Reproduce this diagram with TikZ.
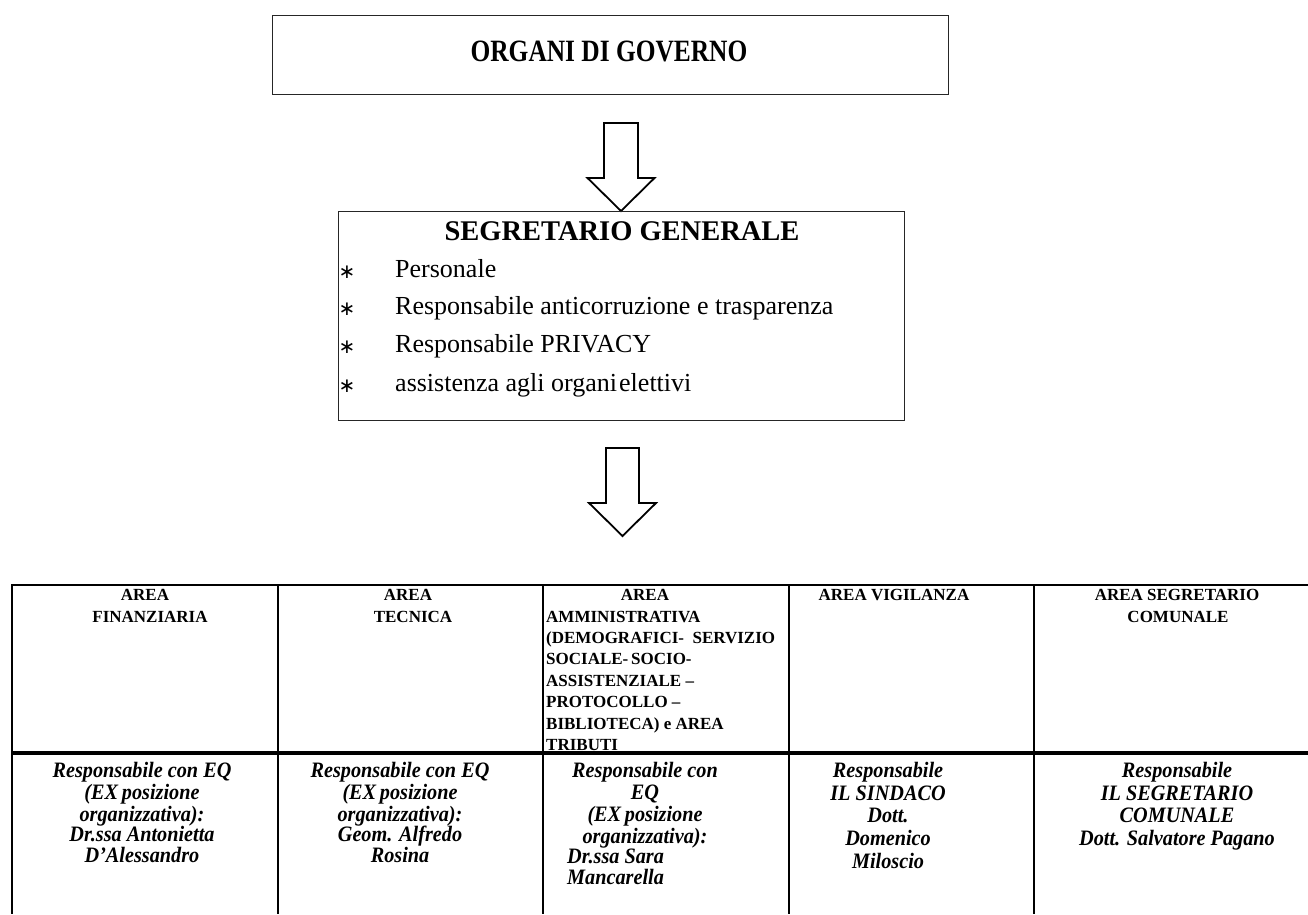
\documentclass[tikz,border=0pt]{standalone}
\usepackage{fontspec}
\setmainfont{Liberation Serif}
\newfontfamily\condA[FakeStretch=0.82]{Liberation Serif}
\newfontfamily\condB[FakeStretch=0.92]{Liberation Serif}
\newfontfamily\dejavu{DejaVu Sans}
\usetikzlibrary{calc}
\tikzset{
  frame/.style={draw=black!85, line width=1.2pt, inner sep=0pt},
  blk/.style={draw=black, line width=1.8pt, fill=white, line join=miter},
  tline/.style={draw=black, line width=2pt},
  tthick/.style={draw=black, line width=3.5pt},
  ttl/.style={font=\condA\bfseries\fontsize{31}{33}\selectfont, anchor=base, inner sep=0pt},
  sttl/.style={font=\bfseries\fontsize{28.5}{30}\selectfont, anchor=base, inner sep=0pt},
  bl/.style={font=\fontsize{26}{28}\selectfont, anchor=base west, inner sep=0pt},
  ast/.style={font=\dejavu\fontsize{20}{22}\selectfont, anchor=base, inner sep=0pt},
  hd/.style={font=\bfseries\fontsize{17}{19}\selectfont, anchor=base, inner sep=0pt},
  hdl/.style={font=\bfseries\fontsize{17}{19}\selectfont, anchor=base west, inner sep=0pt},
  bi/.style={font=\condB\bfseries\itshape\fontsize{22}{24}\selectfont, anchor=base, inner sep=0pt},
  bil/.style={font=\condB\bfseries\itshape\fontsize{22}{24}\selectfont, anchor=base west, inner sep=0pt},
}
\begin{document}
\begin{tikzpicture}[x=1pt,y=-1pt]
\useasboundingbox (0,0) rectangle (1308,914);
% top box
\node[frame, anchor=north west, minimum width=676pt, minimum height=79pt] (gov) at (272,15) {};
\node[ttl] (govt) at (609,61) {ORGANI DI GOVERNO};
% arrow 1
\coordinate (a1) at (621,123);
\draw[blk] ($(a1)+(-17,0)$) -- ++(34,0) -- ++(0,55) -- ++(16.5,0) -- ++(-33.5,33) -- ++(-33.5,-33) -- ++(16.5,0) -- cycle;
% segretario box
\node[frame, anchor=north west, minimum width=566pt, minimum height=209pt] (seg) at (338,211) {};
\node[sttl] (segt) at (622,240.5) {SEGRETARIO GENERALE};
\foreach \yy/\q [count=\n] in {277.5/Personale, 314.5/Responsabile anticorruzione e trasparenza, 352.5/Responsabile PRIVACY, 391.5/{assistenza agli organi\hspace{0.08em}elettivi}}{
  \node[ast] (s\n) at (347,\yy+1) {∗};
  \node[bl] (b\n) at (395,\yy) {\q};
}
% arrow 2
\coordinate (a2) at (622.5,448);
\draw[blk] ($(a2)+(-16.5,0)$) -- ++(33,0) -- ++(0,55) -- ++(17,0) -- ++(-33.5,33) -- ++(-33.5,-33) -- ++(17,0) -- cycle;
% table
\draw[tline] (11,585) -- (1308,585);
\draw[tthick] (11,753) -- (1308,753);
\foreach \x in {12,278,543,789,1034} \draw[tline] (\x,584) -- (\x,914);
% header row
\node[hd] (h1a) at (145,600.75) {AREA};
\node[hd] (h1b) at (150,622.75) {FINANZIARIA};
\node[hd] (h2a) at (408,600.75) {AREA};
\node[hd] (h2b) at (413,622.75) {TECNICA};
\node[hd] (h3a) at (645,600.75) {AREA};
\foreach \q [count=\n] in {AMMINISTRATIVA, {(DEMOGRAFICI-\ \ SERVIZIO}, {SOCIALE-\,SOCIO-}, {ASSISTENZIALE –}, {PROTOCOLLO –}, {BIBLIOTECA) e AREA}, TRIBUTI}{
  \node[hdl] (h3\n) at (546,600.75+21.4*\n) {\q};
}
\node[hd] (h4a) at (894,600.75) {AREA VIGILANZA};
\node[hd] (h5a) at (1177,600.75) {AREA SEGRETARIO};
\node[hd] (h5b) at (1178,622.75) {COMUNALE};
% bottom row
\foreach \yy/\q [count=\n] in {777/{Responsabile con EQ}, 799/{(EX\,posizione}, 821/{organizzativa):}, 841.5/{Dr.ssa Antonietta}, 862/{D’Alessandro}}{
  \node[bi] (c1\n) at (142,\yy) {\q};
}
\foreach \yy/\q [count=\n] in {777/{Responsabile con EQ}, 799/{(EX\,posizione}, 821/{organizzativa):}, 841.5/{Geom. Alfredo}, 862/{Rosina}}{
  \node[bi] (c2\n) at (400,\yy) {\q};
}
\foreach \yy/\q [count=\n] in {777/{Responsabile con}, 799/{EQ}, 821/{(EX\,posizione}, 843/{organizzativa):}}{
  \node[bi] (c3\n) at (645,\yy) {\q};
}
\node[bil] (c35) at (567,863.5) {Dr.ssa Sara};
\node[bil] (c36) at (567,884) {Mancarella};
\foreach \yy/\q [count=\n] in {777.5/{Responsabile}, 800/{IL SINDACO}, 822.5/{Dott.}, 845.5/{Domenico}, 868.5/{Miloscio}}{
  \node[bi] (c4\n) at (888,\yy) {\q};
}
\foreach \yy/\q [count=\n] in {777.5/{Responsabile}, 800/{IL SEGRETARIO}, 822.5/{COMUNALE}, 845/{Dott. Salvatore Pagano}}{
  \node[bi] (c5\n) at (1177,\yy) {\q};
}
\end{tikzpicture}
\end{document}
